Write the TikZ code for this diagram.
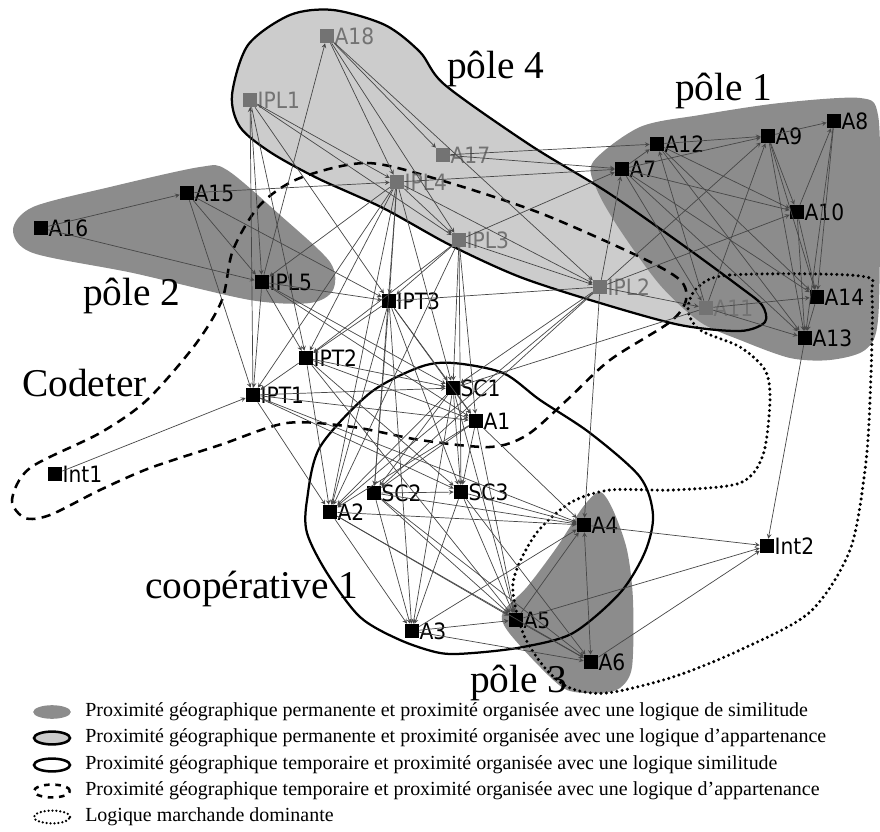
\documentclass[tikz,border=0pt]{standalone}
\usepackage{fontspec}
\setmainfont{Liberation Serif}
\newfontfamily\lblfont[FakeStretch=0.9]{DejaVu Sans}
\usepackage{tikz}
\usetikzlibrary{arrows}

\begin{document}
\begin{tikzpicture}[x=0.025cm, y=-0.025cm, arrow/.style = {draw=black!72, line width=0.5pt, -stealth}]
		\tikzset{actor/.style={rectangle, fill=black, inner sep=0pt, minimum size=0.35cm, label distance=1pt}}
		\tikzset{gactor/.style={actor, fill=black!55}}
		\tikzset{lbl/.style={font=\lblfont\fontsize{16}{16}\selectfont, inner sep=0pt}}
		\tikzset{glbl/.style={lbl, text=black!55}}
		\tikzset{title/.style={font=\fontsize{28}{30}\selectfont, inner sep=0pt, anchor=base west}}
		\tikzset{legend/.style={font=\fontsize{14.2}{16}\selectfont, inner sep=0pt, anchor=west}}
		\tikzset{zone/.style={line width=1.6pt, draw=black}}
		\useasboundingbox (0,0) rectangle (880,832);

	% poles
		\fill[black!45] plot[smooth cycle] coordinates {(13,230) (33,207) (110,187) (200,167) (227,170) (280,215) (330,262) (333,290) (310,303) (250,300) (133,273) (33,253)};
		\fill[black!45] plot[smooth cycle] coordinates {(600,492) (613,510) (627,550) (633,600) (632,667) (620,688) (600,693) (567,690) (540,667) (507,630) (503,612) (527,587) (557,547) (583,507)};
		\fill[black!20] plot[smooth cycle] coordinates {(333,10) (385,25) (420,52) (445,85) (530,145) (607,192) (680,243) (740,287) (762,305) (765,322) (740,331) (680,325) (600,303) (520,277) (450,245) (383,208) (317,178) (270,152) (240,127) (232,95) (248,45) (290,15)};
		\fill[black!45] plot[smooth cycle] coordinates {(593,162) (640,127) (700,115) (780,103) (860,98) (878,115) (880,200) (878,320) (865,350) (830,360) (790,358) (740,340) (700,322) (660,285) (620,230) (597,190)};
		\draw[zone] plot[smooth cycle] coordinates {(333,10) (385,25) (420,52) (445,85) (530,145) (607,192) (680,243) (740,287) (762,305) (765,322) (740,331) (680,325) (600,303) (520,277) (450,245) (383,208) (317,178) (270,152) (240,127) (232,95) (248,45) (290,15)};

	% cooperative, Codeter, logique marchande
		\draw[zone] plot[smooth cycle] coordinates {(307,500) (320,447) (370,393) (420,367) (453,363) (503,373) (540,400) (590,433) (640,477) (653,515) (645,552) (620,593) (573,633) (523,647) (473,653) (440,653) (400,640) (360,617) (327,573) (307,533)};
		\draw[zone, line width=1.8pt, dash pattern=on 6.5pt off 4.5pt] plot[smooth cycle] coordinates {(300,178) (367,163) (440,180) (540,213) (640,257) (680,280) (686,300) (670,322) (610,360) (567,400) (527,435) (490,447) (420,440) (353,427) (287,423) (220,445) (150,468) (100,490) (50,515) (25,518) (12,500) (30,468) (100,433) (147,400) (195,345) (222,300) (233,250) (260,205)};
		\draw[line width=2.4pt, line cap=round, dash pattern=on 0pt off 3.8pt] plot[smooth cycle] coordinates {(697,288) (730,275) (860,276) (872,296) (870,400) (865,470) (850,550) (810,612) (740,650) (673,677) (607,693) (570,688) (545,668) (523,633) (513,583) (535,535) (570,503) (610,490) (673,490) (740,483) (763,455) (770,400) (765,370) (740,347) (700,330) (688,310)};

		\node[title] (p4) at (447,79) {pôle 4};
		\node[title] (p1) at (675,101) {pôle 1};
		\node[title] (p2) at (83,306) {pôle 2};
		\node[title] (cod) at (22,397) {Codeter};
		\node[title] (coop) at (145,598) {coopérative 1};
		\node[title] (p3) at (470,692) {pôle 3};

	% actors
		\node[gactor, label={[glbl]right:A18}] (A18) at (327,36) {};
		\node[gactor, label={[glbl]right:IPL1}] (IPL1) at (250,100) {};
		\node[gactor, label={[glbl]right:A17}] (A17) at (443,155) {};
		\node[gactor, label={[glbl]right:IPL4}] (IPL4) at (397,182) {};
		\node[gactor, label={[glbl]right:IPL3}] (IPL3) at (459,240) {};
		\node[gactor, label={[glbl]right:IPL2}] (IPL2) at (600,287) {};
		\node[gactor, label={[glbl]right:A11}] (A11) at (706,308) {};
		\node[actor, label={[lbl]right:A12}] (A12) at (657,144) {};
		\node[actor, label={[lbl]right:A7}] (A7) at (622,169) {};
		\node[actor, label={[lbl]right:A9}] (A9) at (768,136) {};
		\node[actor, label={[lbl]right:A8}] (A8) at (834,121) {};
		\node[actor, label={[lbl]right:A10}] (A10) at (797,212) {};
		\node[actor, label={[lbl]right:A14}] (A14) at (817,297) {};
		\node[actor, label={[lbl]right:A13}] (A13) at (805,338) {};
		\node[actor, label={[lbl]right:A15}] (A15) at (187,193) {};
		\node[actor, label={[lbl]right:A16}] (A16) at (41,228) {};
		\node[actor, label={[lbl]right:IPL5}] (IPL5) at (262,282) {};
		\node[actor, label={[lbl]right:IPT3}] (IPT3) at (389,301) {};
		\node[actor, label={[lbl]right:IPT2}] (IPT2) at (306,358) {};
		\node[actor, label={[lbl]right:IPT1}] (IPT1) at (253,395) {};
		\node[actor, label={[lbl]right:Int1}] (Int1) at (55,474) {};
		\node[actor, label={[lbl]right:SC1}] (SC1) at (453,388) {};
		\node[actor, label={[lbl]right:A1}] (A1) at (476,421) {};
		\node[actor, label={[lbl]right:SC2}] (SC2) at (374,493) {};
		\node[actor, label={[lbl]right:SC3}] (SC3) at (461,492) {};
		\node[actor, label={[lbl]right:A2}] (A2) at (330,512) {};
		\node[actor, label={[lbl]right:A4}] (A4) at (584,525) {};
		\node[actor, label={[lbl]right:Int2}] (Int2) at (767,546) {};
		\node[actor, label={[lbl]right:A5}] (A5) at (516,620) {};
		\node[actor, label={[lbl]right:A3}] (A3) at (412,631) {};
		\node[actor, label={[lbl]right:A6}] (A6) at (591,662) {};

	% relations
		\draw [arrow] (A16) -- (A15);
		\draw [arrow] (A16) -- (IPL5);
		\draw [arrow] (A15) -- (IPL5);
		\draw [arrow] (A15) -- (IPT1);
		\draw [arrow] (A15) -- (IPT3);
		\draw [arrow] (A15) -- (IPL4);
		\draw [arrow] (IPL1) -- (IPL5);
		\draw [arrow] (IPL1) -- (IPL4);
		\draw [arrow] (IPL1) -- (IPL3);
		\draw [arrow] (IPL1) -- (IPT2);
		\draw [arrow] (IPL1) -- (IPT3);
		\draw [arrow] (IPT1) -- (IPL1);
		\draw [arrow] (IPL5) -- (A18);
		\draw [arrow] (A18) -- (IPL4);
		\draw [arrow] (A18) -- (A17);
		\draw [arrow] (A18) -- (IPL3);
		\draw [arrow] (A18) -- (IPL2);
		\draw [arrow] (A17) -- (A12);
		\draw [arrow] (A17) -- (A7);
		\draw [arrow] (IPL4) -- (A7);
		\draw [arrow] (IPL4) -- (IPL5);
		\draw [arrow] (IPL4) -- (IPT3);
		\draw [arrow] (IPL4) -- (IPT2);
		\draw [arrow] (IPL4) -- (IPT1);
		\draw [arrow] (IPL4) -- (SC1);
		\draw [arrow] (IPL4) -- (A2);
		\draw [arrow] (IPL4) -- (SC2);
		\draw [arrow] (IPL4) -- (IPL2);
		\draw [arrow] (IPL4) -- (IPL3);
		\draw [arrow] (IPL3) -- (A7);
		\draw [arrow] (IPL3) -- (IPL2);
		\draw [arrow] (IPL3) -- (SC1);
		\draw [arrow] (IPL3) -- (A1);
		\draw [arrow] (IPL3) -- (IPT3);
		\draw [arrow] (IPL3) -- (IPT2);
		\draw [arrow] (IPL3) -- (A2);
		\draw [arrow] (IPL3) -- (SC3);
		\draw [arrow] (IPL2) -- (A7);
		\draw [arrow] (IPL2) -- (A9);
		\draw [arrow] (IPL2) -- (A10);
		\draw [arrow] (IPL2) -- (A11);
		\draw [arrow] (IPL2) -- (IPT3);
		\draw [arrow] (IPL2) -- (SC1);
		\draw [arrow] (IPL2) -- (A4);
		\draw [arrow] (IPL2) -- (A2);
		\draw [arrow] (IPL2) -- (SC2);
		\draw [arrow] (A11) -- (A14);
		\draw [arrow] (A11) -- (A13);
		\draw [arrow] (A11) -- (A9);
		\draw [arrow] (A11) -- (A12);
		\draw [arrow] (A11) -- (SC1);
		\draw [arrow] (A12) -- (A9);
		\draw [arrow] (A12) -- (A10);
		\draw [arrow] (A12) -- (A13);
		\draw [arrow] (A12) -- (A14);
		\draw [arrow] (A7) -- (A12);
		\draw [arrow] (A7) -- (A9);
		\draw [arrow] (A7) -- (A10);
		\draw [arrow] (A7) -- (A13);
		\draw [arrow] (A7) -- (A14);
		\draw [arrow] (A7) -- (A11);
		\draw [arrow] (A9) -- (A8);
		\draw [arrow] (A9) -- (A10);
		\draw [arrow] (A9) -- (A13);
		\draw [arrow] (A9) -- (A14);
		\draw [arrow] (A8) -- (A13);
		\draw [arrow] (A8) -- (A14);
		\draw [arrow] (A10) -- (A8);
		\draw [arrow] (A10) -- (A13);
		\draw [arrow] (A10) -- (A14);
		\draw [arrow] (A14) -- (A13);
		\draw [arrow] (A13) -- (Int2);
		\draw [arrow] (IPL5) -- (IPT3);
		\draw [arrow] (IPL5) -- (IPT2);
		\draw [arrow] (IPL5) -- (IPT1);
		\draw [arrow] (IPL5) -- (SC1);
		\draw [arrow] (IPL5) -- (A1);
		\draw [arrow] (IPT3) -- (IPT2);
		\draw [arrow] (IPT3) -- (SC1);
		\draw [arrow] (IPT3) -- (A1);
		\draw [arrow] (IPT3) -- (SC2);
		\draw [arrow] (IPT3) -- (SC3);
		\draw [arrow] (IPT3) -- (A2);
		\draw [arrow] (IPT3) -- (A3);
		\draw [arrow] (IPT2) -- (IPT1);
		\draw [arrow] (IPT2) -- (SC1);
		\draw [arrow] (IPT2) -- (A1);
		\draw [arrow] (IPT2) -- (SC3);
		\draw [arrow] (IPT2) -- (A2);
		\draw [arrow] (IPT2) -- (A5);
		\draw [arrow] (Int1) -- (IPT1);
		\draw [arrow] (IPT1) -- (SC1);
		\draw [arrow] (IPT1) -- (A1);
		\draw [arrow] (IPT1) -- (A2);
		\draw [arrow] (IPT1) -- (SC3);
		\draw [arrow] (IPT1) -- (A4);
		\draw [arrow] (SC1) -- (A1);
		\draw [arrow] (SC1) -- (SC2);
		\draw [arrow] (SC1) -- (SC3);
		\draw [arrow] (SC1) -- (A2);
		\draw [arrow] (SC1) -- (A3);
		\draw [arrow] (SC1) -- (A5);
		\draw [arrow] (A1) -- (SC2);
		\draw [arrow] (A1) -- (SC3);
		\draw [arrow] (A1) -- (A4);
		\draw [arrow] (A1) -- (A5);
		\draw [arrow] (A1) -- (A2);
		\draw [arrow] (SC2) -- (SC3);
		\draw [arrow] (SC2) -- (A4);
		\draw [arrow] (SC2) -- (A5);
		\draw [arrow] (SC2) -- (A3);
		\draw [arrow] (SC2) -- (A6);
		\draw [arrow] (SC3) -- (A4);
		\draw [arrow] (SC3) -- (A5);
		\draw [arrow] (SC3) -- (A3);
		\draw [arrow] (SC3) -- (A6);
		\draw [arrow] (A2) -- (A4);
		\draw [arrow] (A2) -- (A5);
		\draw [arrow] (A2) -- (A3);
		\draw [arrow] (A2) -- (A6);
		\draw [arrow] (A4) -- (Int2);
		\draw [arrow, stealth-stealth] (A4) -- (A6);
		\draw [arrow] (A5) -- (A4);
		\draw [arrow] (A5) -- (Int2);
		\draw [arrow] (A5) -- (A6);
		\draw [arrow] (A6) -- (Int2);
		\draw [arrow] (A3) -- (A5);
		\draw [arrow] (A3) -- (A6);
		\draw [arrow] (A3) -- (A4);

	% legend
		\fill[black!45] (52,712) ellipse (0.47cm and 0.17cm);
		\draw[line width=1.8pt, fill=black!20] (52,738) ellipse (0.45cm and 0.16cm);
		\draw[line width=1.8pt] (52,765) ellipse (0.45cm and 0.16cm);
		\draw[line width=1.8pt, dash pattern=on 4pt off 4pt] (52,791) ellipse (0.45cm and 0.16cm);
		\draw[line width=1.8pt, line cap=round, dash pattern=on 0pt off 2.8pt] (52,817) ellipse (0.45cm and 0.16cm);
		\node[legend] (l1) at (85,712) {Proximité géographique permanente et proximité organisée avec une logique de similitude};
		\node[legend] (l2) at (85,738) {Proximité géographique permanente et proximité organisée avec une logique d’appartenance};
		\node[legend] (l3) at (85,765) {Proximité géographique temporaire et proximité organisée avec une logique similitude};
		\node[legend] (l4) at (85,791) {Proximité géographique temporaire et proximité organisée avec une logique d’appartenance};
		\node[legend] (l5) at (85,817) {Logique marchande dominante};
	\end{tikzpicture}
\end{document}
